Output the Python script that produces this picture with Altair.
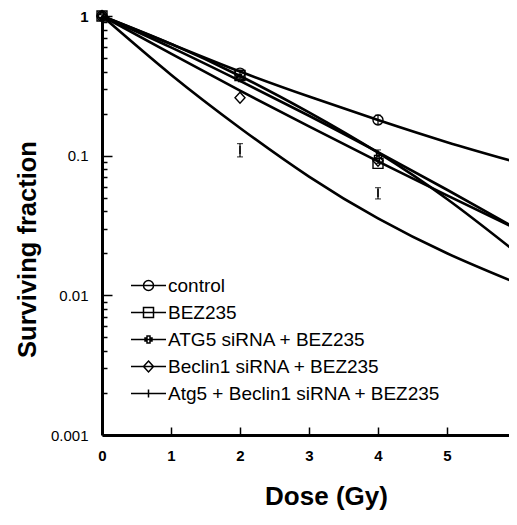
import altair as alt
import pandas as pd

# ---------------- data ----------------
series = ["control", "BEZ235", "ATG5 siRNA + BEZ235",
          "Beclin1 siRNA + BEZ235", "Atg5 + Beclin1 siRNA + BEZ235"]

curve_doses = [0, 1, 2, 3, 4, 5, 6]
curve_control = [1, 0.63, 0.40, 0.265, 0.18, 0.125, 0.09]
curve_bez = [1, 0.631, 0.372, 0.204, 0.105, 0.049, 0.0204]
curve_atg5 = [1, 0.596, 0.343, 0.193, 0.106, 0.057, 0.0302]
curve_beclin = [1, 0.537, 0.292, 0.162, 0.091, 0.052, 0.030]
curve_double = [1, 0.380, 0.158, 0.0708, 0.0355, 0.020, 0.0123]

point_doses = [0, 2, 4, 6]
pts_control = [1, 0.39, 0.18, 0.09]
pts_bez = [1, 0.375, 0.088, 0.019]
pts_atg5 = [1, 0.36, 0.098, 0.03]
pts_beclin = [1, 0.26, 0.092, 0.031]
pts_double = [1, 0.11, 0.054, 0.0118]

err_series = ["control", "BEZ235", "ATG5 siRNA + BEZ235",
              "Atg5 + Beclin1 siRNA + BEZ235", "Atg5 + Beclin1 siRNA + BEZ235",
              "Atg5 + Beclin1 siRNA + BEZ235"]
err_doses = [4, 2, 4, 2, 4, 6]
err_lo = [0.168, 0.35, 0.088, 0.098, 0.049, 0.0105]
err_hi = [0.195, 0.41, 0.11, 0.122, 0.059, 0.0132]

y_major = [0.001, 0.01, 0.1, 1]
y_minor_ticks = [m * d for d in [0.001, 0.01, 0.1] for m in range(1, 10)] + [1]
x_ticks = [0, 1, 2, 3, 4, 5, 6]
x_inner_ticks = [1, 2, 3, 4, 5, 6]

# ---------------- tables ----------------
curve_vals = [curve_control, curve_bez, curve_atg5, curve_beclin, curve_double]
pts_vals = [pts_control, pts_bez, pts_atg5, pts_beclin, pts_double]

curves = pd.DataFrame([
    {"series": s, "dose": d, "sf": v}
    for s, vals in zip(series, curve_vals) for d, v in zip(curve_doses, vals)
])
points = pd.DataFrame([
    {"series": s, "dose": d, "sf": v}
    for s, vals in zip(series, pts_vals) for d, v in zip(point_doses, vals)
])
errs = pd.DataFrame({"series": err_series, "dose": err_doses,
                     "lo": err_lo, "hi": err_hi})

W, H = 414, 419
FONT = "Liberation Sans"

xscale = alt.Scale(domain=[0, 6], nice=False, zero=False)
yscale = alt.Scale(type="log", domain=[0.001, 1], nice=False)

plot_shapes = [
    "circle",
    "square",
    "M-0.3,-0.7L0.3,-0.7L0.3,-0.3L0.7,-0.3L0.7,0.3L0.3,0.3L0.3,0.7L-0.3,0.7L-0.3,0.3L-0.7,0.3L-0.7,-0.3L-0.3,-0.3Z",
    "M0,-1.1L1,0L0,1.1L-1,0Z",
    "M0,-0.8L0,0.8",
]
legend_shapes = [
    "M-3.5,0L3.5,0M-1,0A1,1,0,1,0,1,0A1,1,0,1,0,-1,0",
    "M-3.5,0L3.5,0M-1,-1L1,-1L1,1L-1,1Z",
    "M-3.5,0L3.5,0M-0.3,-0.7L0.3,-0.7L0.3,-0.3L0.7,-0.3L0.7,0.3L0.3,0.3L0.3,0.7L-0.3,0.7L-0.3,0.3L-0.7,0.3L-0.7,-0.3L-0.3,-0.3Z",
    "M-3.5,0L3.5,0M0,-1.1L1,0L0,1.1L-1,0Z",
    "M-3.5,0L3.5,0M0,-0.8L0,0.8",
]

major_test = "abs(log(datum.value)/LN10 - round(log(datum.value)/LN10)) < 0.001"

# curves with the labelled axes (left and bottom)
lines = alt.Chart(curves).mark_line(
    color="black", strokeWidth=2.6, interpolate="natural", clip=False
).encode(
    x=alt.X("dose:Q", scale=xscale, axis=alt.Axis(
        title="Dose (Gy)", values=x_ticks, ticks=False, tickSize=0,
        domain=True, domainColor="black", domainWidth=3, grid=False,
        labelFont=FONT, labelFontSize=15, labelFontWeight="bold",
        labelColor="black", labelPadding=13, labelFlush=False,
        titleFont=FONT, titleFontSize=26, titleFontWeight="bold",
        titleColor="black", titleX=224, titleY=61, titleAlign="center",
        titleBaseline="middle")),
    y=alt.Y("sf:Q", scale=yscale, axis=alt.Axis(
        title="Surviving fraction", values=y_major, format="~g",
        ticks=False, tickSize=0, domain=True, domainColor="black",
        domainWidth=3, grid=False, labelFont=FONT, labelFontSize=15,
        labelFontWeight={"condition": {"test": "datum.value == 1", "value": "bold"},
                         "value": "normal"},
        labelColor="black", labelPadding=14,
        titleFont=FONT, titleFontSize=25.5, titleFontWeight="bold",
        titleColor="black", titleAngle=270, titleX=-75, titleY=233,
        titleAlign="center", titleBaseline="middle")),
    detail="series:N",
)

# markers with inward-pointing tick axes
markers = alt.Chart(points).mark_point(
    color="black", filled=False, size=100, strokeWidth=1.4, opacity=1, clip=False
).encode(
    x=alt.X("dose:Q", scale=xscale, axis=alt.Axis(
        orient="top", offset=-H, values=x_inner_ticks, labels=False,
        domain=False, grid=False, title=None, tickColor="black",
        tickWidth=1.5, tickSize=8)),
    y=alt.Y("sf:Q", scale=yscale, axis=alt.Axis(
        orient="right", offset=-W, values=y_minor_ticks, labels=False,
        domain=False, grid=False, title=None, tickColor="black",
        tickWidth=1.5,
        tickSize={"condition": {"test": major_test, "value": 10}, "value": 5})),
    shape=alt.Shape("series:N", scale=alt.Scale(domain=series, range=plot_shapes),
                    legend=None),
)

bars = alt.Chart(errs).mark_errorbar(
    ticks=alt.MarkConfig(size=6, color="black", strokeWidth=1.2),
    color="black", thickness=1.2
).encode(
    x=alt.X("dose:Q", scale=xscale, axis=None),
    y=alt.Y("lo:Q", scale=yscale, axis=None, title=None),
    y2="hi:Q",
)

legend_layer = alt.Chart(points).mark_point(
    color="black", filled=False, size=100, opacity=0
).encode(
    x=alt.X("dose:Q", scale=xscale, axis=None),
    y=alt.Y("sf:Q", scale=yscale, axis=None),
    shape=alt.Shape("series:N", scale=alt.Scale(domain=series, range=legend_shapes),
                    legend=alt.Legend(
                        title=None, orient="none", legendX=37, legendY=260,
                        symbolSize=100, symbolOpacity=1, symbolStrokeColor="black",
                        symbolFillColor="transparent", symbolStrokeWidth=1.5,
                        labelFont=FONT, labelFontSize=19, labelColor="black",
                        labelOffset=10, rowPadding=7, padding=0,
                        labelLimit=500)),
)

chart = alt.layer(lines, markers, bars, legend_layer).resolve_scale(
    shape="independent"
).resolve_axis(
    x="independent", y="independent"
).properties(
    width=W, height=H,
    autosize=alt.AutoSizeParams(type="none"),
    padding={"left": 94, "top": 8, "right": -7, "bottom": 82},
    background="white",
).configure_view(stroke=None)

chart.save("out.html", embed_options={"renderer": "svg", "actions": False})
